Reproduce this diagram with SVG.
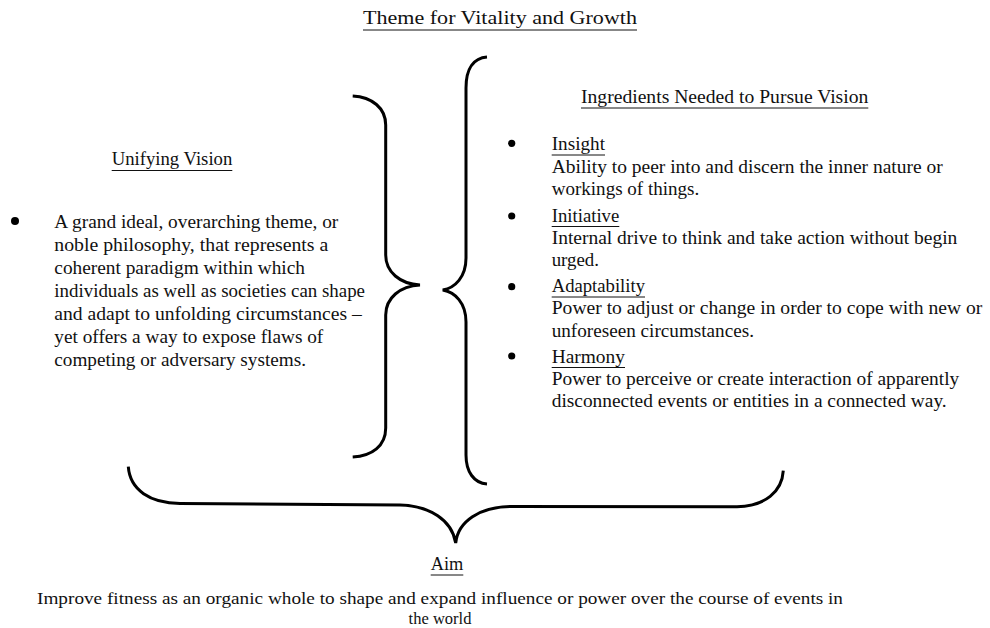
<svg xmlns="http://www.w3.org/2000/svg" width="990" height="628" viewBox="0 0 990 628">
<style>
text{font-family:"Liberation Serif","Times New Roman",serif;fill:#111;}
.t{font-size:19px;}
.h{font-size:19px;}
.b{font-size:16.5px;}
.ul{stroke:#111;stroke-width:1;}
.br{fill:none;stroke:#000;stroke-width:3;stroke-linecap:butt;}
.dot{fill:#000;}
</style>
<rect width="990" height="628" fill="#fff"/>
<g id="title">
<text class="h" x="363" y="24" textLength="274" lengthAdjust="spacingAndGlyphs">Theme for Vitality and Growth</text>
<line class="ul" x1="363" y1="30" x2="637" y2="30"/>
</g>
<g id="unifying-vision">
<text class="h" x="111.7" y="165" textLength="120.6" lengthAdjust="spacingAndGlyphs">Unifying Vision</text>
<line class="ul" x1="111.7" y1="170.5" x2="232.3" y2="170.5"/>
<circle class="dot" cx="15" cy="221" r="4"/>
<text class="t" x="54.3" y="228" textLength="284" lengthAdjust="spacingAndGlyphs">A grand ideal, overarching theme, or</text>
<text class="t" x="54.3" y="251" textLength="274" lengthAdjust="spacingAndGlyphs">noble philosophy, that represents a</text>
<text class="t" x="54.3" y="274" textLength="250.7" lengthAdjust="spacingAndGlyphs">coherent paradigm within which</text>
<text class="t" x="54.3" y="297" textLength="310.7" lengthAdjust="spacingAndGlyphs">individuals as well as societies can shape</text>
<text class="t" x="54.3" y="320" textLength="307.4" lengthAdjust="spacingAndGlyphs">and adapt to unfolding circumstances –</text>
<text class="t" x="54.3" y="343" textLength="269" lengthAdjust="spacingAndGlyphs">yet offers a way to expose flaws of</text>
<text class="t" x="54.3" y="366" textLength="251.7" lengthAdjust="spacingAndGlyphs">competing or adversary systems.</text>
</g>
<g id="ingredients">
<text class="h" x="581" y="102.7" textLength="287.3" lengthAdjust="spacingAndGlyphs">Ingredients Needed to Pursue Vision</text>
<line class="ul" x1="581" y1="108" x2="868.3" y2="108"/>
</g>
<g id="insight">
<circle class="dot" cx="511.7" cy="143.3" r="3.6"/>
<text class="t" x="551.7" y="150" textLength="53.3" lengthAdjust="spacingAndGlyphs">Insight</text>
<line class="ul" x1="551.7" y1="155" x2="605" y2="155"/>
<text class="t" x="551.7" y="172.5" textLength="391" lengthAdjust="spacingAndGlyphs">Ability to peer into and discern the inner nature or</text>
<text class="t" x="551.7" y="195" textLength="147.6" lengthAdjust="spacingAndGlyphs">workings of things.</text>
</g>
<g id="initiative">
<circle class="dot" cx="511.7" cy="216" r="3.6"/>
<text class="t" x="551.7" y="221.5" textLength="67.6" lengthAdjust="spacingAndGlyphs">Initiative</text>
<line class="ul" x1="551.7" y1="226.5" x2="619.3" y2="226.5"/>
<text class="t" x="551.7" y="243.5" textLength="405.6" lengthAdjust="spacingAndGlyphs">Internal drive to think and take action without begin</text>
<text class="t" x="551.7" y="266" textLength="47.3" lengthAdjust="spacingAndGlyphs">urged.</text>
</g>
<g id="adaptability">
<circle class="dot" cx="511.7" cy="286.7" r="3.6"/>
<text class="t" x="551.7" y="292" textLength="93.3" lengthAdjust="spacingAndGlyphs">Adaptability</text>
<line class="ul" x1="551.7" y1="297" x2="645" y2="297"/>
<text class="t" x="551.7" y="314" textLength="430.6" lengthAdjust="spacingAndGlyphs">Power to adjust or change in order to cope with new or</text>
<text class="t" x="551.7" y="336.5" textLength="202.3" lengthAdjust="spacingAndGlyphs">unforeseen circumstances.</text>
</g>
<g id="harmony">
<circle class="dot" cx="511.7" cy="356" r="3.6"/>
<text class="t" x="551.7" y="362.5" textLength="73.3" lengthAdjust="spacingAndGlyphs">Harmony</text>
<line class="ul" x1="551.7" y1="367.5" x2="625" y2="367.5"/>
<text class="t" x="551.7" y="385" textLength="407.6" lengthAdjust="spacingAndGlyphs">Power to perceive or create interaction of apparently</text>
<text class="t" x="551.7" y="407" textLength="395" lengthAdjust="spacingAndGlyphs">disconnected events or entities in a connected way.</text>
</g>
<g id="aim">
<text class="h" x="430.7" y="570" textLength="32.6" lengthAdjust="spacingAndGlyphs">Aim</text>
<line class="ul" x1="430.7" y1="575" x2="463.3" y2="575"/>
<text class="b" x="37" y="604" textLength="806" lengthAdjust="spacingAndGlyphs">Improve fitness as an organic whole to shape and expand influence or power over the course of events in</text>
<text class="b" x="440" y="624" text-anchor="middle">the world</text>
</g>
<g id="connectors">
<path class="br" d="M352.7,96 C372,97 385.7,108 385.7,125 L385.7,255 C385.7,272 400,284 420,285 C400,286 385.7,298 385.7,315 L385.7,428 C385.7,446 372,456 352.7,457"/>
<path class="br" d="M487,57 C474,58 466,68 466,88 L466,258 C466,277 455,288 442.7,290 C455,292 466,303 466,322 L466,455 C466,472 474,483 487,484"/>
<path class="br" d="M128.3,466.7 C130,490 150,503 180,503.5 L400,505 C430,506 452,520 455.7,543 C458,521 480,507 510,506.5 L737,506.7 C765,506 782,492 783.3,470.7"/>
</g>
</svg>
